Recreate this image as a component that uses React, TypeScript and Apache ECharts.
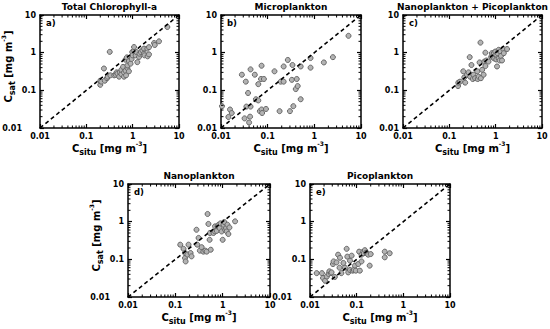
import React, { useEffect, useRef } from 'react';
import * as echarts from 'echarts';

const FONT = 'DejaVu Sans';

const panelTitles = ['Total Chlorophyll-a', 'Microplankton', 'Nanoplankton + Picoplankton', 'Nanoplankton', 'Picoplankton'];
const panelLetters = ['a)', 'b)', 'c)', 'd)', 'e)'];
const axisMin = 0.01;
const axisMax = 10;
const minorTickValues = [0.02, 0.03, 0.04, 0.05, 0.06, 0.07, 0.08, 0.09, 0.2, 0.3, 0.4, 0.5, 0.6, 0.7, 0.8, 0.9, 2, 3, 4, 5, 6, 7, 8, 9];
const oneToOne = [0.01, 10];

// a) Total Chlorophyll-a
const totalSitu = [0.20, 0.20, 0.21, 0.24, 0.25, 0.28, 0.29, 0.32, 0.33, 0.40, 0.43, 0.45, 0.47, 0.51, 0.53, 0.57, 0.57, 0.62, 0.65, 0.65, 0.70, 0.72, 0.70, 0.75, 0.77, 0.77, 0.83, 0.83, 0.90, 0.95, 0.98, 1.0, 1.07, 1.07, 1.16, 1.2, 1.26, 1.37, 1.4, 1.5, 1.62, 1.76, 1.76, 1.8, 2.07, 2.1, 2.25, 2.25, 2.9, 3.0, 3.7, 5.6];
const totalSat = [0.14, 0.18, 0.17, 0.38, 0.18, 0.21, 0.23, 1.05, 0.25, 0.25, 0.26, 0.30, 0.28, 0.23, 0.30, 0.27, 0.35, 0.42, 0.23, 0.30, 0.33, 0.25, 0.65, 0.75, 0.39, 0.46, 0.32, 0.60, 0.51, 0.68, 1.04, 0.85, 1.15, 1.41, 0.85, 1.04, 0.56, 0.77, 0.94, 1.04, 1.15, 1.28, 0.94, 0.85, 1.28, 0.8, 1.4, 0.9, 1.8, 1.6, 2.0, 4.8];

// b) Microplankton
const microSitu = [0.0105, 0.0144, 0.0156, 0.017, 0.028, 0.032, 0.034, 0.035, 0.038, 0.040, 0.042, 0.043, 0.043, 0.053, 0.056, 0.063, 0.063, 0.068, 0.072, 0.074, 0.074, 0.076, 0.083, 0.092, 0.14, 0.18, 0.19, 0.22, 0.22, 0.27, 0.30, 0.33, 0.34, 0.355, 0.40, 0.42, 0.44, 0.51, 0.51, 0.83, 0.83, 1.6, 2.5, 5.4];
const microSat = [0.038, 0.0196, 0.031, 0.025, 0.26, 0.018, 0.17, 0.037, 0.085, 0.014, 0.020, 0.36, 0.037, 0.26, 0.058, 0.054, 0.146, 0.028, 0.20, 0.45, 0.031, 0.025, 0.20, 0.032, 0.32, 0.028, 0.17, 0.43, 0.17, 0.64, 0.028, 0.19, 0.47, 0.038, 0.108, 0.20, 0.13, 0.43, 0.058, 0.72, 0.40, 0.55, 0.76, 2.8];

// c) Nanoplankton + Picoplankton
const nanoPicoSitu = [0.154, 0.156, 0.17, 0.20, 0.21, 0.22, 0.24, 0.26, 0.275, 0.28, 0.30, 0.32, 0.33, 0.36, 0.40, 0.41, 0.43, 0.45, 0.47, 0.48, 0.51, 0.55, 0.57, 0.60, 0.60, 0.63, 0.70, 0.80, 0.83, 0.88, 0.91, 0.93, 0.98, 1.03, 1.03, 1.07, 1.1, 1.16, 1.16, 1.22, 1.26, 1.3, 1.37, 1.45, 1.5, 1.76];
const nanoPicoSat = [0.13, 0.16, 0.17, 0.32, 0.22, 0.16, 0.26, 0.30, 0.76, 0.23, 0.47, 0.20, 0.26, 0.21, 0.32, 0.20, 0.23, 0.55, 1.85, 0.21, 0.35, 0.26, 0.58, 1.0, 0.44, 0.62, 0.58, 0.78, 0.97, 0.78, 0.97, 0.70, 1.07, 0.87, 0.66, 0.43, 0.97, 0.70, 1.19, 0.62, 1.07, 0.82, 0.62, 1.25, 0.97, 1.25];

// d) Nanoplankton
const nanoSitu = [0.127, 0.149, 0.16, 0.16, 0.165, 0.18, 0.19, 0.21, 0.22, 0.28, 0.29, 0.31, 0.33, 0.36, 0.39, 0.43, 0.46, 0.48, 0.50, 0.53, 0.54, 0.56, 0.64, 0.69, 0.69, 0.75, 0.78, 0.82, 0.86, 0.9, 0.95, 1.0, 1.04, 1.08, 1.13, 1.18, 1.22, 1.26, 1.32, 1.39, 1.83];
const nanoSat = [0.245, 0.19, 0.147, 0.108, 0.088, 0.134, 0.245, 0.147, 0.12, 0.61, 0.245, 0.37, 0.17, 0.21, 0.16, 0.17, 0.16, 1.6, 0.87, 0.33, 0.5, 0.18, 0.50, 0.55, 0.75, 0.57, 0.75, 0.83, 0.68, 0.9, 0.55, 0.33, 0.83, 0.98, 0.6, 0.68, 0.55, 0.83, 0.47, 0.7, 1.02];

// e) Picoplankton
const picoSitu = [0.0139, 0.018, 0.019, 0.021, 0.023, 0.025, 0.026, 0.028, 0.029, 0.031, 0.032, 0.034, 0.037, 0.040, 0.043, 0.044, 0.047, 0.052, 0.056, 0.061, 0.063, 0.066, 0.072, 0.072, 0.078, 0.082, 0.087, 0.092, 0.096, 0.108, 0.113, 0.117, 0.127, 0.127, 0.138, 0.142, 0.15, 0.16, 0.167, 0.176, 0.19, 0.2, 0.40, 0.40, 0.51];
const picoSat = [0.043, 0.043, 0.032, 0.027, 0.035, 0.041, 0.048, 0.043, 0.045, 0.075, 0.088, 0.034, 0.083, 0.133, 0.06, 0.11, 0.043, 0.08, 0.06, 0.19, 0.118, 0.045, 0.052, 0.092, 0.125, 0.05, 0.052, 0.068, 0.05, 0.075, 0.16, 0.05, 0.133, 0.088, 0.16, 0.145, 0.175, 0.15, 0.145, 0.133, 0.068, 0.138, 0.16, 0.113, 0.145];

const panelSitu = [totalSitu, microSitu, nanoPicoSitu, nanoSitu, picoSitu];
const panelSat = [totalSat, microSat, nanoPicoSat, nanoSat, picoSat];

const grids = [
  { left: 40, top: 15, width: 139, height: 113 },
  { left: 221, top: 15, width: 140, height: 113 },
  { left: 403, top: 15, width: 139, height: 113 },
  { left: 128, top: 184, width: 142, height: 113 },
  { left: 310, top: 184, width: 140, height: 113 },
];
const shiftLowestYLabel = [true, false, false, true, true];
const showYTitle = [true, false, false, true, false];

const fmt = (v: number) => String(Number(v.toPrecision(2)));

const nameRich = {
  m: { fontSize: 10, fontWeight: 'bold', fontFamily: FONT, color: '#000', lineHeight: 16, verticalAlign: 'middle' },
  s: { fontSize: 8, fontWeight: 'bold', fontFamily: FONT, color: '#000', lineHeight: 8, verticalAlign: 'bottom' },
  p: { fontSize: 6, fontWeight: 'bold', fontFamily: FONT, color: '#000', lineHeight: 9, verticalAlign: 'top' },
};
const graphicRich = {
  m: { fontSize: 10, fontWeight: 'bold', fontFamily: FONT, fill: '#000', lineHeight: 16, verticalAlign: 'middle' },
  s: { fontSize: 8, fontWeight: 'bold', fontFamily: FONT, fill: '#000', lineHeight: 8, verticalAlign: 'bottom' },
  p: { fontSize: 6, fontWeight: 'bold', fontFamily: FONT, fill: '#000', lineHeight: 9, verticalAlign: 'top' },
};

function buildOption() {
  const xAxis: any[] = [];
  const yAxis: any[] = [];
  const series: any[] = [];
  const graphic: any[] = [];
  const axisLine = { show: true, onZero: false, lineStyle: { color: '#000', width: 1.5 } };
  const axisTick = { show: true, inside: true, length: 4, lineStyle: { color: '#000', width: 1.2 } };
  const labelBase = { fontSize: 8, fontWeight: 'bold', fontFamily: FONT, color: '#000' };

  grids.forEach((g, i) => {
    const common = { type: 'log', logBase: 10, min: axisMin, max: axisMax, gridIndex: i, splitLine: { show: false }, axisLine, axisTick, minorTick: { show: false } };
    xAxis.push({
      ...common,
      position: 'bottom',
      axisLabel: { ...labelBase, margin: 4, formatter: (v: number) => fmt(v) },
      name: '{m|C}{s|situ}{m| [mg m}{p|-3}{m|]}',
      nameLocation: 'middle',
      nameGap: 12,
      nameTextStyle: { rich: nameRich },
    });
    xAxis.push({ ...common, position: 'top', axisLabel: { show: false } });
    yAxis.push({
      ...common,
      position: 'left',
      axisLabel: {
        ...labelBase,
        margin: 4,
        formatter: (v: number) => (shiftLowestYLabel[i] && v < 0.015 ? '{s|' + fmt(v) + '}' : '{n|' + fmt(v) + '}'),
        rich: {
          n: { ...labelBase },
          s: { ...labelBase, padding: [0, 14, 0, 0] },
        },
      },
    });
    yAxis.push({ ...common, position: 'right', axisLabel: { show: false } });

    const situ = panelSitu[i];
    const sat = panelSat[i];
    series.push({
      type: 'line',
      xAxisIndex: 2 * i,
      yAxisIndex: 2 * i,
      data: [[oneToOne[0], oneToOne[0]], [oneToOne[1], oneToOne[1]]],
      symbol: 'none',
      silent: true,
      lineStyle: { color: '#000', width: 1.6, type: [4, 3] },
      z: 4,
    });
    series.push({
      type: 'scatter',
      xAxisIndex: 2 * i,
      yAxisIndex: 2 * i,
      data: situ.map((x, k) => [x, sat[k]]),
      symbol: 'circle',
      symbolSize: 5,
      itemStyle: { color: '#b3b3b3', borderColor: '#666666', borderWidth: 1, opacity: 1 },
      z: 3,
    });
    series.push({
      type: 'custom',
      xAxisIndex: 2 * i,
      yAxisIndex: 2 * i,
      silent: true,
      z: 5,
      data: minorTickValues.map((v) => [v, v]),
      renderItem: (params: any, api: any) => {
        const v = api.value(0);
        const cs = params.coordSys;
        const px = api.coord([v, 1])[0];
        const py = api.coord([1, v])[1];
        const L = 2.5;
        const st = { stroke: '#000', lineWidth: 1 };
        const b = cs.y + cs.height;
        const r = cs.x + cs.width;
        return {
          type: 'group',
          children: [
            { type: 'line', shape: { x1: px, y1: b, x2: px, y2: b - L }, style: st },
            { type: 'line', shape: { x1: px, y1: cs.y, x2: px, y2: cs.y + L }, style: st },
            { type: 'line', shape: { x1: cs.x, y1: py, x2: cs.x + L, y2: py }, style: st },
            { type: 'line', shape: { x1: r, y1: py, x2: r - L, y2: py }, style: st },
          ],
        };
      },
    });

    graphic.push({
      type: 'text',
      x: g.left + g.width / 2,
      y: g.top - 8,
      style: { text: panelTitles[i], fontSize: 9, fontWeight: 'bold', fontFamily: FONT, fill: '#000', align: 'center', verticalAlign: 'middle' },
    });
    graphic.push({
      type: 'text',
      x: g.left + 6,
      y: g.top + 8,
      style: { text: panelLetters[i], fontSize: 8.5, fontWeight: 'bold', fontFamily: FONT, fill: '#000', align: 'left', verticalAlign: 'middle' },
    });
    if (showYTitle[i]) {
      graphic.push({
        type: 'text',
        x: g.left - 32,
        y: g.top + g.height / 2 - 5,
        rotation: Math.PI / 2,
        style: {
          text: '{m|C}{s|sat}{m| [mg m}{p|-3}{m|]}',
          rich: graphicRich,
          align: 'center',
          verticalAlign: 'middle',
        },
      });
    }
  });

  return {
    animation: false,
    backgroundColor: '#fff',
    grid: grids.map((g) => ({ ...g, containLabel: false, outerBoundsMode: 'none' })),
    xAxis,
    yAxis,
    series,
    graphic,
  };
}

export default function App() {
  const ref = useRef<HTMLDivElement>(null);
  useEffect(() => {
    if (!ref.current) return;
    const chart = echarts.init(ref.current, undefined, { renderer: 'svg' });
    chart.setOption(buildOption() as any);
    return () => chart.dispose();
  }, []);
  return <div ref={ref} style={{ position: 'fixed', left: 0, top: 0, width: 550, height: 329, background: '#fff' }} />;
}
